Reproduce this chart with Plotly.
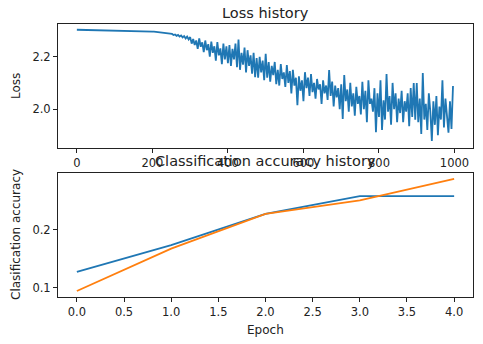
import plotly.graph_objects as go

# ---- data ----
loss_step = 4
loss_history = [
    2.3030, 2.3029, 2.3030, 2.3028, 2.3029, 2.3027, 2.3028, 2.3026, 2.3027, 2.3025, 2.3026, 2.3024, 2.3025,
    2.3023, 2.3024, 2.3022, 2.3023, 2.3021, 2.3021, 2.3019, 2.3020, 2.3018, 2.3018, 2.3016, 2.3017,
    2.3015, 2.3014, 2.3014, 2.3012, 2.3011, 2.3011, 2.3009, 2.3008, 2.3007, 2.3005, 2.3004, 2.3002, 2.3000,
    2.2999, 2.2996, 2.2994, 2.2992, 2.2989, 2.2987, 2.2984, 2.2981, 2.2978, 2.2974, 2.2971, 2.2967,
    2.2962, 2.2958, 2.2950, 2.2948, 2.2938, 2.2934, 2.2920, 2.2918, 2.2900, 2.2905, 2.2880, 2.2890, 2.2855,
    2.2870, 2.2830, 2.2850, 2.2800, 2.2835, 2.2770, 2.2810, 2.2740, 2.2790, 2.2700, 2.2770, 2.2660,
    2.275, 2.250, 2.268, 2.245, 2.262, 2.230, 2.270, 2.238, 2.255, 2.218, 2.262, 2.225, 2.248,
    2.200, 2.258, 2.215, 2.240, 2.185, 2.256, 2.205, 2.232, 2.172, 2.250, 2.190, 2.240,
    2.175, 2.245, 2.165, 2.230, 2.190, 2.250, 2.160, 2.266, 2.150, 2.215, 2.170, 2.235, 2.140,
    2.225, 2.165, 2.205, 2.135, 2.215, 2.122, 2.195, 2.120, 2.200, 2.140, 2.185, 2.110,
    2.211, 2.120, 2.180, 2.105, 2.165, 2.130, 2.180, 2.095, 2.150, 2.090, 2.172, 2.115, 2.140,
    2.085, 2.168, 2.100, 2.145, 2.060, 2.150, 2.090, 2.120, 2.015, 2.125, 2.070, 2.110,
    2.030, 2.141, 2.080, 2.120, 2.050, 2.134, 2.065, 2.100, 2.040, 2.115, 2.075, 2.095, 2.020,
    2.110, 2.060, 2.090, 2.035, 2.149, 2.050, 2.105, 2.010, 2.090, 2.045, 2.080, 2.000,
    2.095, 1.962, 2.130, 2.030, 2.075, 1.990, 2.100, 2.010, 2.060, 1.975, 2.085, 2.020, 2.050,
    1.980, 2.104, 2.000, 2.070, 1.950, 2.110, 2.020, 2.040, 1.990, 2.080, 1.912, 2.060,
    1.970, 2.110, 1.920, 2.034, 1.960, 2.134, 1.990, 2.050, 1.940, 2.100, 2.000, 2.060, 1.950,
    2.040, 1.985, 2.070, 1.950, 2.030, 1.990, 2.060, 1.935, 2.080, 1.970, 2.100, 1.960,
    2.100, 1.950, 2.040, 1.905, 2.138, 1.960, 2.020, 1.920, 2.060, 1.990, 1.878, 2.030, 1.940,
    2.050, 1.900, 2.010, 1.960, 2.110, 1.930, 2.040, 1.980, 1.910, 2.030, 1.924, 2.088,
]
iterations = [i * loss_step for i in range(len(loss_history))]

epochs = [0, 1, 2, 3, 4]
train_acc = [0.127, 0.173, 0.227, 0.2575, 0.2575]
val_acc = [0.094, 0.167, 0.227, 0.250, 0.287]

top_xticks = [0, 200, 400, 600, 800, 1000]
top_yticks = [2.0, 2.2]
bot_xticks = [0.0, 0.5, 1.0, 1.5, 2.0, 2.5, 3.0, 3.5, 4.0]
bot_yticks = [0.1, 0.2]

W, H = 483, 344
FONT = "DejaVu Sans"
TICK = 11.5
LABEL = 12
TITLE = 14.5
LW = 1.8

fig = go.Figure()
fig.add_trace(go.Scatter(x=iterations, y=loss_history, mode="lines",
                         line=dict(color="#1f77b4", width=LW), xaxis="x", yaxis="y",
                         showlegend=False, hoverinfo="skip"))
fig.add_trace(go.Scatter(x=epochs, y=train_acc, mode="lines",
                         line=dict(color="#1f77b4", width=LW), xaxis="x2", yaxis="y2",
                         showlegend=False))
fig.add_trace(go.Scatter(x=epochs, y=val_acc, mode="lines",
                         line=dict(color="#ff7f0e", width=LW), xaxis="x2", yaxis="y2",
                         showlegend=False))

xdom = [58 / W, 473 / W]
top_dom = [1 - 148 / H, 1 - 24 / H]
bot_dom = [1 - 297 / H, 1 - 173 / H]

axis_common = dict(showline=True, linecolor="#222", linewidth=1, mirror=True,
                   ticks="outside", ticklen=4, tickwidth=1, tickcolor="#222",
                   showgrid=False, zeroline=False,
                   tickfont=dict(family=FONT, size=TICK, color="#222"))

fig.update_layout(
    width=W, height=H,
    margin=dict(l=0, r=0, t=0, b=0),
    paper_bgcolor="white", plot_bgcolor="white",
    font=dict(family=FONT, size=LABEL, color="#222"),
    xaxis=dict(domain=xdom, anchor="y", range=[-49.95, 1048.95],
               tickvals=top_xticks, ticktext=[str(v) for v in top_xticks], **axis_common),
    yaxis=dict(domain=top_dom, anchor="x", range=[1.8515, 2.325],
               tickvals=top_yticks, ticktext=[f"{v:.1f}" for v in top_yticks], **axis_common),
    xaxis2=dict(domain=xdom, anchor="y2", range=[-0.2, 4.2],
                tickvals=bot_xticks, ticktext=[f"{v:.1f}" for v in bot_xticks], **axis_common),
    yaxis2=dict(domain=bot_dom, anchor="x2", range=[0.0837, 0.2973],
                tickvals=bot_yticks, ticktext=[f"{v:.1f}" for v in bot_yticks], **axis_common),
)

cx = (xdom[0] + xdom[1]) / 2
annots = [
    dict(text="Loss history", x=cx, y=1 - 13 / H, size=TITLE, angle=0),
    dict(text="Classification accuracy history", x=cx, y=1 - 161 / H, size=TITLE, angle=0),
    dict(text="Epoch", x=cx, y=1 - 330 / H, size=LABEL, angle=0),
    dict(text="Loss", x=16 / W, y=1 - 86 / H, size=LABEL, angle=-90),
    dict(text="Clasification accuracy", x=16 / W, y=1 - 235 / H, size=LABEL, angle=-90),
]
for a in annots:
    fig.add_annotation(text=a["text"], x=a["x"], y=a["y"], xref="paper", yref="paper",
                       xanchor="center", yanchor="middle", showarrow=False,
                       textangle=a["angle"], font=dict(family=FONT, size=a["size"], color="#222"))

fig.write_html("out.html")
